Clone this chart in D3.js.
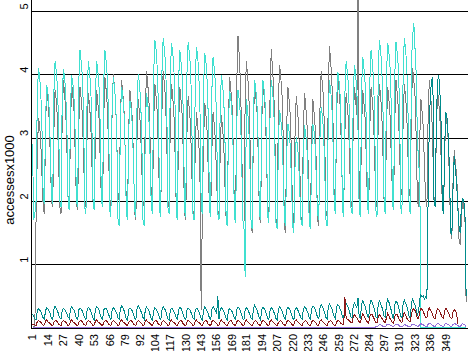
<!DOCTYPE html>
<html lang="en">
<head>
<meta charset="UTF-8">
<title>accesses</title>
<script src="https://cdn.jsdelivr.net/npm/d3@7"></script>
<style>
body{margin:0;background:#fff}
svg{display:block}
text{font-family:"Liberation Sans",Arial,sans-serif;fill:#000}
</style>
</head>
<body>
<div id="grafica"></div>
<script>
// day index 1..366 (one value per day)
days = d3.range(1, 367)
xTicks = [1,14,27,40,53,66,79,92,104,117,130,143,156,169,181,194,207,220,233,246,259,272,284,297,310,323,336,349]
yTicks = [1,2,3,4,5]

// weeks run Sat..Sun..Fri, first two values are Thu/Fri
gray = [0.02,0.02,
 0.02,1.75,2.7,3.3,3.2,2.9,2.4,
 1.9,1.8,3.2,3.8,3.6,3.3,2.7,
 2.0,1.9,3.1,3.75,3.6,3.3,2.6,
 1.9,1.8,3.3,3.9,3.7,3.4,2.8,
 2.0,1.9,3.2,3.85,3.65,3.4,2.7,
 1.95,1.85,3.2,3.8,3.6,3.35,2.7,
 2.0,1.9,3.1,3.7,3.5,3.25,2.6,
 1.95,1.85,3.15,3.75,3.55,3.3,2.65,
 2.0,1.9,3.35,3.95,3.75,3.5,2.85,
 1.95,1.85,3.4,4.0,3.8,3.55,2.9,
 2.1,2.0,3.3,3.9,3.7,3.45,2.8,
 1.9,1.8,3.15,3.75,3.55,3.3,2.65,
 1.8,1.7,3.0,3.6,3.4,3.15,2.5,
 2.0,1.9,3.45,4.05,3.85,3.6,2.95,
 2.0,1.9,3.25,3.85,3.65,3.4,2.75,
 1.95,1.85,3.45,4.05,3.85,3.6,2.95,
 2.0,1.9,3.25,3.85,3.65,3.4,2.75,
 1.9,1.8,3.2,3.8,3.6,3.35,2.7,
 1.8,1.7,3.05,3.65,3.45,3.2,2.55,
 1.85,1.75,2.8,3.4,3.2,2.95,2.3,
 0.27,1.9,2.95,3.55,3.35,3.1,2.45,
 1.9,1.8,2.8,3.4,3.2,2.95,2.3,
 1.85,1.75,2.75,3.35,3.15,2.9,2.25,
 1.7,1.6,3.35,3.95,3.75,3.5,2.85,
 1.8,1.7,3.9,4.6,4.3,3.9,3.1,
 1.7,1.6,3.6,4.2,4.0,3.75,3.1,
 1.6,1.5,3.25,3.85,3.65,3.4,2.75,
 1.75,1.65,3.25,3.85,3.65,3.4,2.75,
 1.8,1.7,3.7,4.4,4.1,3.8,3.1,
 1.7,1.6,3.55,4.15,3.95,3.7,3.05,
 1.6,1.5,3.2,3.8,3.6,3.35,2.7,
 1.7,1.6,3.05,3.65,3.45,3.2,2.55,
 1.75,1.65,3.1,3.7,3.5,3.25,2.6,
 1.8,1.7,3.0,3.6,3.4,3.15,2.5,
 1.7,1.6,3.45,4.05,3.85,3.6,2.95,
 1.85,1.75,3.8,4.45,4.2,3.9,3.2,
 1.95,1.85,3.35,3.95,3.75,3.5,2.85,
 2.0,1.9,3.1,3.7,3.5,3.25,2.6,
 2.0,1.9,3.2,3.8,3.6,3.35,5.6,
 1.95,1.85,3.15,3.75,3.55,3.3,2.65,
 1.9,1.8,3.2,3.8,3.6,3.35,2.7,
 2.0,1.9,3.25,3.85,3.65,3.4,2.75,
 1.95,1.85,3.2,3.8,3.6,3.35,2.7,
 2.1,2.0,3.3,3.9,3.7,3.45,2.8,
 2.2,2.1,3.25,3.85,3.65,3.4,2.75,
 2.15,2.05,3.5,4.1,3.9,3.65,3.0,
 2.0,1.9,3.0,3.6,3.4,3.15,2.5,
 2.0,1.9,3.3,3.9,3.7,3.45,2.8,
 2.05,1.95,3.15,3.75,3.55,3.3,2.65,
 1.9,1.8,2.8,3.4,3.2,2.95,2.3,
 1.5,1.4,2.3,2.8,2.6,2.4,2.0,
 1.4,1.3,1.7,2.0,1.9,1.8,0.4]

cyan = [2.9,1.7,
 1.8,2.0,3.6,4.1,3.95,3.7,3.1,
 2.05,1.95,3.3,3.83,3.7,3.45,2.85,
 2.05,1.95,3.7,4.2,4.05,3.8,3.2,
 2.0,1.9,3.6,4.08,3.95,3.7,3.1,
 1.95,1.85,3.5,3.98,3.85,3.6,3.0,
 2.0,1.9,3.9,4.38,4.2,3.95,3.35,
 1.9,1.8,3.7,4.2,4.05,3.8,3.2,
 1.95,1.85,3.7,4.2,4.05,3.8,3.2,
 2.0,1.9,3.9,4.38,4.2,3.95,3.35,
 1.85,1.75,3.45,3.96,3.8,3.55,2.95,
 1.7,1.6,3.3,3.8,3.65,3.4,2.8,
 1.8,1.7,3.1,3.58,3.45,3.2,2.6,
 1.85,1.75,3.5,4.0,3.85,3.6,3.0,
 1.7,1.6,3.2,3.7,3.55,3.3,2.7,
 1.9,1.8,4.0,4.54,4.4,4.1,3.5,
 1.85,1.75,4.05,4.57,4.4,4.15,3.55,
 1.9,1.8,4.0,4.49,4.35,4.1,3.5,
 1.8,1.7,3.9,4.38,4.2,3.95,3.35,
 1.85,1.75,4.0,4.5,4.35,4.1,3.5,
 1.8,1.7,3.9,4.43,4.3,4.0,3.4,
 1.9,1.8,3.8,4.33,4.2,3.9,3.3,
 1.85,1.75,3.75,4.27,4.1,3.85,3.25,
 1.8,1.7,3.5,3.98,3.85,3.6,3.0,
 1.7,1.6,3.25,3.74,3.6,3.35,2.75,
 1.75,1.65,3.25,3.75,3.6,3.35,2.75,
 1.7,1.6,0.8,3.6,3.45,3.2,2.6,
 1.65,1.55,3.4,3.9,3.75,3.5,2.9,
 1.8,1.7,3.4,3.9,3.75,3.5,2.9,
 1.75,1.65,3.4,3.9,3.75,3.5,2.9,
 1.65,1.55,2.95,3.43,3.3,3.05,2.5,
 1.7,1.6,2.75,3.22,3.1,2.85,2.3,
 1.6,1.5,2.55,3.0,2.9,2.65,2.15,
 1.7,1.6,2.75,3.2,3.05,2.85,2.3,
 1.65,1.55,2.75,3.22,3.1,2.85,2.3,
 1.8,1.7,3.0,3.48,3.35,3.1,2.5,
 1.7,1.6,3.4,3.9,3.75,3.5,2.9,
 1.9,1.8,3.55,4.04,3.9,3.65,3.05,
 1.85,1.75,3.7,4.2,4.05,3.8,3.2,
 1.9,1.8,3.65,4.15,4.0,3.75,3.15,
 1.85,1.75,3.75,4.27,4.1,3.85,3.25,
 1.9,1.8,3.9,4.38,4.2,3.95,3.35,
 1.85,1.75,4.0,4.54,4.4,4.1,3.5,
 1.9,1.8,4.0,4.49,4.35,4.1,3.5,
 1.95,1.85,4.0,4.5,4.35,4.1,3.5,
 1.9,1.8,4.05,4.57,4.4,4.15,3.55,
 1.9,1.8,4.2,4.6,4.8,4.4,4.0,
 3.0,2.6,2.4,0,0,0,0,
 0,0,0,0,0,0,0,
 0,0,0,0,0,0,0,
 0,0,0,0,0,0,0,
 0,0,0,0,0,0,0,
 0,0,0,0,0,0,0]

teal = [0.22,0.18,
 0.14,0.12,0.26,0.3,0.28,0.25,0.2,
 0.15,0.13,0.27,0.31,0.29,0.26,0.21,
 0.14,0.12,0.28,0.34,0.3,0.27,0.2,
 0.15,0.13,0.27,0.3,0.29,0.25,0.21,
 0.16,0.14,0.29,0.33,0.3,0.27,0.22,
 0.14,0.12,0.28,0.31,0.29,0.26,0.2,
 0.15,0.13,0.27,0.32,0.3,0.26,0.21,
 0.14,0.12,0.29,0.33,0.31,0.27,0.2,
 0.15,0.13,0.28,0.31,0.3,0.26,0.21,
 0.16,0.12,0.27,0.32,0.29,0.26,0.22,
 0.15,0.13,0.29,0.34,0.31,0.27,0.2,
 0.14,0.12,0.28,0.31,0.29,0.26,0.21,
 0.15,0.13,0.29,0.35,0.31,0.27,0.22,
 0.16,0.13,0.28,0.32,0.3,0.26,0.2,
 0.14,0.12,0.27,0.31,0.29,0.25,0.21,
 0.15,0.13,0.28,0.33,0.3,0.27,0.2,
 0.14,0.12,0.27,0.3,0.29,0.25,0.21,
 0.15,0.13,0.28,0.32,0.3,0.26,0.2,
 0.14,0.12,0.27,0.31,0.29,0.26,0.21,
 0.15,0.13,0.28,0.3,0.29,0.25,0.2,
 0.14,0.12,0.27,0.32,0.3,0.26,0.21,
 0.15,0.13,0.29,0.33,0.3,0.27,0.22,
 0.5,0.13,0.28,0.31,0.29,0.26,0.2,
 0.14,0.12,0.27,0.3,0.28,0.25,0.2,
 0.15,0.13,0.28,0.32,0.3,0.26,0.21,
 0.14,0.12,0.27,0.31,0.29,0.25,0.2,
 0.15,0.13,0.29,0.35,0.31,0.27,0.21,
 0.14,0.12,0.28,0.32,0.3,0.26,0.2,
 0.15,0.13,0.27,0.31,0.29,0.25,0.21,
 0.14,0.12,0.28,0.33,0.3,0.26,0.2,
 0.15,0.13,0.29,0.32,0.3,0.27,0.21,
 0.14,0.12,0.28,0.31,0.29,0.25,0.2,
 0.15,0.13,0.29,0.33,0.31,0.27,0.22,
 0.15,0.13,0.3,0.34,0.32,0.28,0.22,
 0.16,0.14,0.31,0.36,0.33,0.29,0.23,
 0.16,0.14,0.32,0.37,0.34,0.3,0.23,
 0.17,0.14,0.32,0.36,0.34,0.29,0.24,
 0.16,0.15,0.33,0.38,0.35,0.3,0.24,
 0.17,0.15,0.34,0.39,0.36,0.31,0.47,
 0.17,0.15,0.36,0.42,0.38,0.33,0.26,
 0.18,0.16,0.37,0.43,0.39,0.34,0.27,
 0.17,0.15,0.36,0.42,0.38,0.33,0.26,
 0.18,0.16,0.37,0.44,0.4,0.34,0.27,
 0.17,0.15,0.36,0.42,0.39,0.33,0.26,
 0.18,0.16,0.37,0.43,0.39,0.34,0.27,
 0.17,0.15,0.38,0.45,0.4,0.35,0.28,
 0.2,0.25,0.45,0.52,0.48,0.5,0.45,
 0.48,0.45,2.0,3.2,3.7,3.9,3.96,
 2.0,1.9,3.3,3.9,3.98,3.7,3.2,
 1.9,1.8,2.9,3.4,3.3,3.0,2.5,
 1.5,1.47,2.2,2.7,2.5,2.3,1.9,
 1.6,1.5,1.9,2.05,2.0,1.85,0.5]

red = [0.05,0.04,
 0.04,0.03,0.09,0.11,0.1,0.08,0.06,
 0.03,0.04,0.1,0.12,0.09,0.08,0.06,
 0.04,0.03,0.08,0.1,0.11,0.09,0.05,
 0.04,0.03,0.09,0.11,0.1,0.08,0.06,
 0.03,0.04,0.1,0.12,0.09,0.08,0.06,
 0.04,0.03,0.08,0.1,0.11,0.09,0.05,
 0.04,0.03,0.09,0.11,0.1,0.08,0.06,
 0.03,0.04,0.1,0.12,0.09,0.08,0.06,
 0.04,0.03,0.08,0.1,0.11,0.09,0.05,
 0.04,0.03,0.09,0.11,0.1,0.08,0.06,
 0.03,0.04,0.1,0.12,0.09,0.08,0.06,
 0.04,0.03,0.08,0.1,0.11,0.09,0.05,
 0.04,0.03,0.09,0.11,0.1,0.08,0.06,
 0.03,0.04,0.1,0.12,0.09,0.08,0.06,
 0.04,0.03,0.08,0.1,0.11,0.09,0.05,
 0.04,0.03,0.09,0.11,0.1,0.08,0.06,
 0.03,0.04,0.1,0.12,0.09,0.08,0.06,
 0.04,0.03,0.08,0.1,0.11,0.09,0.05,
 0.04,0.03,0.09,0.11,0.1,0.08,0.06,
 0.03,0.04,0.1,0.12,0.09,0.08,0.06,
 0.04,0.03,0.08,0.1,0.11,0.09,0.05,
 0.04,0.03,0.09,0.11,0.1,0.08,0.06,
 0.03,0.04,0.1,0.12,0.09,0.08,0.06,
 0.04,0.03,0.08,0.1,0.11,0.09,0.05,
 0.04,0.03,0.09,0.11,0.1,0.08,0.06,
 0.03,0.04,0.1,0.12,0.09,0.08,0.06,
 0.04,0.03,0.08,0.1,0.11,0.09,0.05,
 0.04,0.03,0.09,0.11,0.1,0.08,0.06,
 0.03,0.04,0.1,0.12,0.09,0.08,0.06,
 0.04,0.03,0.08,0.1,0.11,0.09,0.05,
 0.04,0.03,0.09,0.11,0.1,0.08,0.06,
 0.03,0.04,0.1,0.12,0.09,0.08,0.06,
 0.04,0.03,0.08,0.1,0.11,0.09,0.05,
 0.04,0.03,0.09,0.11,0.1,0.08,0.06,
 0.03,0.04,0.1,0.12,0.09,0.08,0.06,
 0.04,0.03,0.08,0.1,0.11,0.09,0.05,
 0.04,0.03,0.09,0.11,0.1,0.08,0.06,
 0.05,0.04,0.48,0.15,0.13,0.12,0.1,
 0.08,0.07,0.17,0.2,0.18,0.15,0.12,
 0.09,0.08,0.16,0.22,0.19,0.14,0.11,
 0.08,0.07,0.18,0.21,0.2,0.16,0.12,
 0.08,0.07,0.17,0.2,0.18,0.15,0.12,
 0.09,0.08,0.16,0.22,0.19,0.14,0.11,
 0.08,0.07,0.18,0.21,0.2,0.16,0.12,
 0.09,0.08,0.17,0.24,0.2,0.15,0.12,
 0.1,0.09,0.2,0.28,0.3,0.27,0.22,
 0.15,0.14,0.25,0.3,0.28,0.25,0.2,
 0.16,0.15,0.27,0.31,0.27,0.24,0.19,
 0.15,0.14,0.25,0.3,0.28,0.25,0.2,
 0.16,0.15,0.27,0.31,0.27,0.24,0.19,
 0.15,0.14,0.24,0.28,0.26,0.22,0.05]

purple = [0,0,
 0,0,0,0,0,0,0, 0,0,0,0,0,0,0, 0,0,0,0,0,0,0, 0,0,0,0,0,0,0, 0,0,0,0,0,0,0,
 0,0,0,0,0,0,0, 0,0,0,0,0,0,0, 0,0,0,0,0,0,0, 0,0,0,0,0,0,0, 0,0,0,0,0,0,0,
 0,0,0,0,0,0,0, 0,0,0,0,0,0,0, 0,0,0,0,0,0,0, 0,0,0,0,0,0,0, 0,0,0,0,0,0,0,
 0,0,0,0,0,0,0, 0,0,0,0,0,0,0, 0,0,0,0,0,0,0, 0,0,0,0,0,0,0, 0,0,0,0,0,0,0,
 0,0,0,0,0,0,0, 0,0,0,0,0,0,0, 0,0,0,0,0,0,0, 0,0,0,0,0,0,0, 0,0,0,0,0,0,0,
 0,0,0,0,0,0,0, 0,0,0,0,0,0,0, 0,0,0,0,0,0,0, 0,0,0,0,0,0,0, 0,0,0,0,0,0,0,
 0,0,0,0,0,0,0, 0,0,0,0,0,0,0, 0,0,0,0,0,0,0, 0,0,0,0,0,0,0, 0,0,0,0,0,0,0,
 0,0,0,0,0,0,0, 0,0,0,0,0,0,0, 0,0,0,0,0,0,0, 0,0,0,0,0,0,0, 0,0,0,0,0,0,0,
 0,0,0,0,0,0,0,
 0.01,0.01,0.03,0.04,0.04,0.03,0.02,
 0.01,0.01,0.04,0.05,0.05,0.04,0.03,
 0.02,0.01,0.04,0.05,0.04,0.04,0.02,
 0.01,0.01,0.03,0.04,0.04,0.03,0.02,
 0.01,0.01,0.04,0.05,0.05,0.04,0.03,
 0.02,0.02,0.05,0.06,0.05,0.04,0.03,
 0.02,0.01,0.05,0.07,0.06,0.05,0.03,
 0.02,0.02,0.05,0.06,0.06,0.04,0.03,
 0.02,0.01,0.05,0.07,0.05,0.05,0.03,
 0.02,0.02,0.05,0.06,0.06,0.04,0.03,
 0.02,0.01,0.04,0.06,0.05,0.04,0]

series = [
  {name:'gray', values:gray, color:'#808080'},
  {name:'cyan', values:cyan, color:'#40e0d0'},
  {name:'teal', values:teal, color:'#008b8b'},
  {name:'red', values:red, color:'#8b1a1a'},
  {name:'purple', values:purple, color:'#9370db'}
]

ancho_total = 468
alto_total = 351

svg = d3.select('#grafica')
  .append('svg')
  .attr('width', ancho_total)
  .attr('height', alto_total)

x = d3.scalePoint()
  .domain(days)
  .range([32.5, 466.1])

y = d3.scaleLinear()
  .domain([0, 5])
  .range([327.5, 10.85])

// horizontal grid
svg.append('g')
  .selectAll('line')
  .data(yTicks)
  .join('line')
  .attr('x1', 31)
  .attr('x2', ancho_total)
  .attr('y1', d => Math.round(y(d)) + 0.5)
  .attr('y2', d => Math.round(y(d)) + 0.5)
  .attr('stroke', '#000')
  .attr('shape-rendering', 'crispEdges')

// y axis line
svg.append('line')
  .attr('x1', 31.5).attr('x2', 31.5)
  .attr('y1', 0).attr('y2', 328)
  .attr('stroke', '#000')
  .attr('shape-rendering', 'crispEdges')

// x axis line at zero
svg.append('line')
  .attr('x1', 31).attr('x2', ancho_total)
  .attr('y1', Math.round(y(0)) + 0.5).attr('y2', Math.round(y(0)) + 0.5)
  .attr('stroke', '#000')
  .attr('shape-rendering', 'crispEdges')

linea = d3.line()
  .x((d, i) => x(days[i]))
  .y(d => y(d))

svg.append('g')
  .selectAll('path')
  .data(series)
  .join('path')
  .attr('fill', 'none')
  .attr('stroke', d => d.color)
  .attr('stroke-width', 1)
  .attr('shape-rendering', 'crispEdges')
  .attr('d', d => linea(d.values))

// y tick labels (rotated)
svg.append('g')
  .selectAll('text')
  .data(yTicks)
  .join('text')
  .attr('transform', d => 'translate(27.5,' + (y(d) - 4.5) + ') rotate(-90)')
  .attr('text-anchor', 'middle')
  .attr('font-size', 11)
  .text(d => d)

// x tick labels (rotated)
svg.append('g')
  .selectAll('text')
  .data(xTicks)
  .join('text')
  .attr('transform', d => 'translate(' + x(d) + ',334) rotate(-90)')
  .attr('text-anchor', 'end')
  .attr('dy', '0.35em')
  .attr('font-size', 11)
  .text(d => d)

// axis title
svg.append('text')
  .attr('transform', 'translate(13.5,180) rotate(-90)')
  .attr('text-anchor', 'middle')
  .attr('font-size', 13)
  .text('accessesx1000')
</script>
</body>
</html>
